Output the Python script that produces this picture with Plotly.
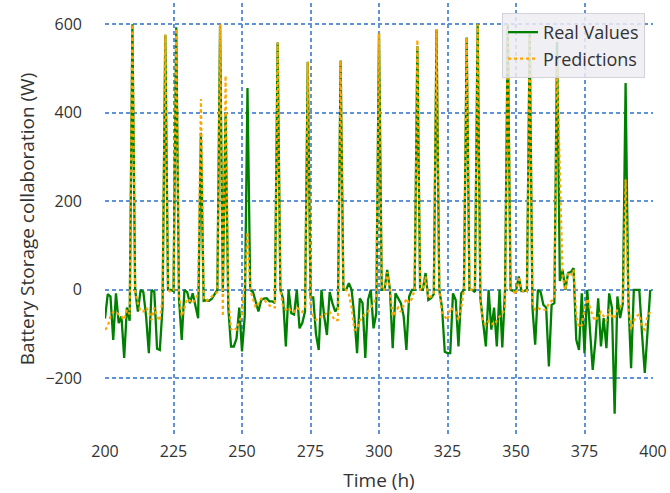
import plotly.graph_objects as go

# Hourly time index (h)
hours = list(range(200, 400))

# Measured battery storage collaboration (W)
real_values = [
    -65, -10, -15, -113, -8, -75, -60, -154, -40, -70,
    600, 0, -49, 0, -5, -60, -143, 0, -5, -133,
    -136, -40, 576, 0, 0, -3, 593, -20, -113, 0,
    -5, -30, -8, -35, -64, 355, -25, -24, -25, -20,
    -10, 0, 600, -5, 400, -40, -128, -128, -110, -40,
    -139, -60, 456, 0, -5, -30, -49, -23, -20, -19,
    -26, -26, -30, 559, 0, -20, -128, 0, -53, -56,
    0, -87, -75, -49, 515, -17, -17, -100, -136, 0,
    -60, -102, -5, -30, -49, -40, 518, 0, 0, 15,
    0, -60, -143, -19, -30, -154, -23, 0, -87, -53,
    580, 0, 0, 45, 0, -132, -8, -19, -30, -60,
    -136, -15, 0, 0, 550, 0, 0, 38, -23, -19,
    -10, 588, 0, -40, -140, -143, -143, -8, -23, -128,
    -8, 0, 570, 0, 0, -5, 600, -20, -72, -128,
    0, -90, -40, -128, 0, -130, 0, 600, 0, -3,
    -3, 30, -3, -3, 0, 580, -40, -124, 0, -5,
    -34, -40, -173, -34, -30, 560, 20, 45, 0, 38,
    40, 49, -113, -136, -8, -143, 0, -98, -181, -113,
    -19, -128, -64, -132, -8, -40, -280, -15, -64, -30,
    467, -20, -177, 0, 0, 0, -100, -188, -95, 0,
]

# Model predictions (W)
predictions = [
    -90, -83, -60, -50, -49, -56, -60, -68, -45, -55,
    600, -5, -30, -49, -49, -40, -49, -68, -40, -60,
    -70, -20, 576, 0, -5, 0, 590, -10, -60, -40,
    -20, -25, -30, -20, -10, 431, -20, -25, -20, -15,
    -10, -5, 600, -60, 484, -20, -90, -85, -90, -70,
    -60, 20, 130, 0, -20, -40, -30, -20, -20, -30,
    -35, -40, -40, 559, 0, -40, -45, -40, -50, -50,
    -40, -45, -50, -40, 515, -40, -60, -68, -65, -60,
    -60, -50, -50, -60, -70, -68, 518, 0, 0, -10,
    -40, -90, -90, -70, -60, -55, -50, -40, -30, -20,
    580, 0, 0, 40, 0, -60, -50, -40, -50, -35,
    -20, -30, -20, 0, 565, 0, 0, 30, -20, -15,
    -10, 588, 0, -53, -60, -68, -40, -45, -50, -70,
    -40, 0, 570, 0, 0, 0, 600, -30, -72, -80,
    -70, -75, -80, -70, -60, -55, -40, 600, 0, -3,
    -10, 30, 0, -5, -5, 580, -30, -45, -40, -45,
    -45, -45, -30, -25, -20, 510, 294, 30, 0, 35,
    30, 45, -60, -85, -80, -45, -20, -40, -60, -70,
    -60, -50, -60, -70, -45, -60, -65, -45, -40, -30,
    249, -40, -90, -70, -60, -55, -85, -90, -60, -50,
]

x_ticks = [200, 225, 250, 275, 300, 325, 350, 375, 400]
y_ticks = [-200, 0, 200, 400, 600]
y_tick_text = ["\u2212200", "0", "200", "400", "600"]

grid_blue = "#5f93d8"
text_color = "#333333"

fig = go.Figure()
fig.add_trace(go.Scatter(
    x=hours, y=real_values, mode="lines", name="Real Values",
    line=dict(color="green", width=2.3),
))
fig.add_trace(go.Scatter(
    x=hours, y=predictions, mode="lines", name="Predictions",
    line=dict(color="orange", width=2.2, dash="dot"),
))

fig.update_layout(
    width=670, height=493,
    margin=dict(l=105, r=15, t=3, b=58),
    paper_bgcolor="white", plot_bgcolor="white",
    font=dict(family="Open Sans", color=text_color, size=16),
    showlegend=True,
    legend=dict(
        x=0.9855, xanchor="right", y=0.977, yanchor="top",
        bgcolor="rgba(236,236,242,0.85)", bordercolor="#d2d2d8", borderwidth=1,
        font=dict(size=18, color=text_color),
        tracegroupgap=0,
    ),
)

fig.update_xaxes(
    range=[200, 400], tickvals=x_ticks,
    showgrid=True, gridcolor=grid_blue, gridwidth=1.6, griddash="4px,3px",
    zeroline=False, showline=False, ticks="",
    ticklabelstandoff=5,
    tickfont=dict(size=16, color=text_color),
    title=dict(text="Time (h)", font=dict(size=19, color=text_color), standoff=14),
)
fig.update_yaxes(
    range=[-328, 648], tickvals=y_ticks, ticktext=y_tick_text,
    showgrid=True, gridcolor=grid_blue, gridwidth=1.6, griddash="4px,3px",
    zeroline=False, showline=False, ticks="",
    ticklabelstandoff=22,
    tickfont=dict(size=16, color=text_color),
    title=dict(text="Battery Storage collaboration (W)",
               font=dict(size=19, color=text_color), standoff=5),
)

fig.write_html("out.html")
